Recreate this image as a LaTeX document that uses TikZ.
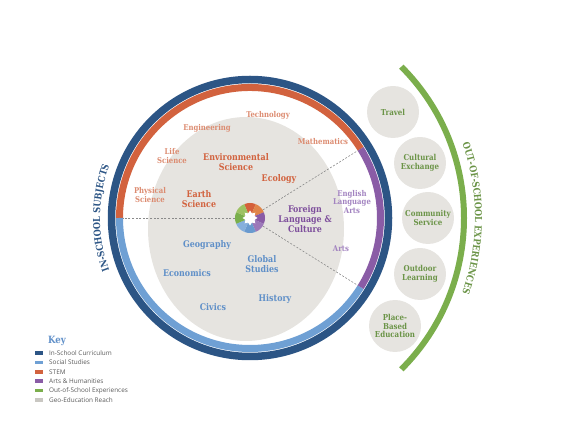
\documentclass[tikz,border=0pt]{standalone}
\usepackage{fontspec}
\setmainfont{DejaVu Serif}[FakeStretch=0.86]
\newfontfamily\keyfont{Open Sans}
\usetikzlibrary{decorations.text,shapes.geometric}
\definecolor{dblue}{HTML}{2C5585}
\definecolor{lblue}{HTML}{6FA0D4}
\definecolor{orng}{HTML}{D2623E}
\definecolor{lorng}{HTML}{DC8B70}
\definecolor{purp}{HTML}{7E4F9C}
\definecolor{lpurp}{HTML}{A283C0}
\definecolor{ringpurp}{HTML}{8A5CA6}
\definecolor{grn}{HTML}{7BAE4C}
\definecolor{dgrn}{HTML}{6B9447}
\definecolor{reach}{HTML}{E6E4E0}
\definecolor{keygray}{HTML}{C9C7C2}
\definecolor{txtblue}{HTML}{5F8FC8}
\definecolor{keytxt}{HTML}{5A5A5A}
\definecolor{dashgray}{HTML}{8A8A8A}
\tikzset{
  lab/.style={font=\fontsize{8}{8.7}\selectfont\bfseries, align=center, inner sep=0pt},
  big/.style={font=\fontsize{9.2}{10}\selectfont\bfseries, align=center, inner sep=0pt},
  bub/.style={circle, fill=reach, minimum size=52pt, inner sep=0pt, text=dgrn,
    font=\fontsize{8.2}{8.6}\selectfont\bfseries, align=center},
  dashline/.style={dashgray, line width=0.6pt, dash pattern=on 2pt off 1.6pt},
  keytext/.style={anchor=west, inner sep=0pt, text=keytxt, font=\keyfont\fontsize{6.4}{7}\selectfont},
  swatch/.style={minimum width=8pt, minimum height=3.6pt, inner sep=0pt}
}
\begin{document}
\begin{tikzpicture}[x=1pt,y=1pt]
\useasboundingbox (0,0) rectangle (575,444);
\coordinate (C) at (250,226);
% geo-education reach
\fill[reach] (246,215) ellipse [x radius=98, y radius=112];
% outer rings
\draw[dblue, line width=7.5pt] (C) circle (138.5);
\draw[orng, line width=7pt] ([shift={(32:130.5)}]C) arc (32:180:130.5);
\draw[lblue, line width=7pt] ([shift={(180:130.5)}]C) arc (180:328:130.5);
\draw[ringpurp, line width=7pt] ([shift={(-32:130.5)}]C) arc (-32:32:130.5);
% green arc
\draw[grn, line width=6pt] ([shift={(-45:214)}]C) arc (-45:45:214);
% hub
\node[circle, minimum size=30pt, inner sep=0pt] (hub) at (C) {};
\coordinate (dL) at ([shift={(180:127)}]C);
\coordinate (dU) at ([shift={(32:127)}]C);
\coordinate (dD) at ([shift={(-32:127)}]C);
\draw[dashline] (hub) -- (dL);
\draw[dashline] (hub) -- (dU);
\draw[dashline] (hub) -- (dD);
\foreach \a/\c in {90/D5603B, 45/E0854A, 0/8A5CA6, -45/9C78B9, -90/6A9ACF, -135/86AFDC, 180/7AAF4C, 135/9DC263}{
  \definecolor{wc}{HTML}{\c}
  \fill[wc] (C) -- ([shift={(\a-22.5:15)}]C) arc (\a-22.5:\a+22.5:15) -- cycle;
}
\node[star, star points=8, star point ratio=1.5, fill=white, minimum size=15pt, inner sep=0pt] at (C) {};
% STEM labels
\node[lab, text=lorng] (tech) at (268,329) {Technology};
\node[lab, text=lorng] (eng) at (207,316) {Engineering};
\node[lab, text=lorng] (math) at (323,302) {Mathematics};
\node[lab, text=lorng] (life) at (172,288) {Life\\Science};
\node[big, text=orng] (env) at (236,282) {Environmental\\Science};
\node[big, text=orng] (eco) at (279,265) {Ecology};
\node[lab, text=lorng] (phys) at (150,249) {Physical\\Science};
\node[big, text=orng] (earth) at (199,245) {Earth\\Science};
% arts & humanities
\node[lab, text=lpurp] (ela) at (352,242) {English\\Language\\Arts};
\node[big, text=purp] (flc) at (305,225) {Foreign\\Language \&\\Culture};
\node[lab, text=lpurp] (arts) at (341,195) {Arts};
% social studies
\node[big, text=txtblue] (geo) at (207,199) {Geography};
\node[big, text=txtblue] (glob) at (262,180) {Global\\Studies};
\node[big, text=txtblue] (econ) at (187,171) {Economics};
\node[big, text=txtblue] (hist) at (275,145) {History};
\node[big, text=txtblue] (civ) at (213,137) {Civics};
% out-of-school bubbles
\node[bub] (travel) at (393,332) {Travel};
\node[bub] (cult) at (420,281) {Cultural\\Exchange};
\node[bub] (comm) at (428,226) {Community\\Service};
\node[bub] (outd) at (420,170) {Outdoor\\Learning};
\node[bub] (place) at (395,118) {Place-\\Based\\Education};
% curved titles
\path[decorate, decoration={text along path, text align=center, text color=dblue,
  text={|\fontsize{9.6}{10}\selectfont\bfseries|IN-SCHOOL SUBJECTS}}]
  ([shift={(215:150)}]C) arc (215:145:150);
\path[decorate, decoration={text along path, text align=center, text color=dgrn,
  text={|\fontsize{9.6}{10}\selectfont\bfseries|OUT-OF-SCHOOL EXPERIENCES}}]
  ([shift={(30:225)}]C) arc (30:-30:225);
% key
\node[anchor=west, inner sep=0pt, text=txtblue, font=\fontsize{10}{11}\selectfont\bfseries] (key) at (48,103) {Key};
\foreach \i/\c/\t in {0/dblue/In-School Curriculum, 1/lblue/Social Studies, 2/orng/STEM, 3/ringpurp/Arts \& Humanities, 4/grn/Out-of-School Experiences, 5/keygray/Geo-Education Reach}{
  \node[swatch, fill=\c] (sw\i) at (39,91-9.4*\i) {};
  \node[keytext] (kt\i) at (49,91-9.4*\i) {\t};
}
\end{tikzpicture}
\end{document}
